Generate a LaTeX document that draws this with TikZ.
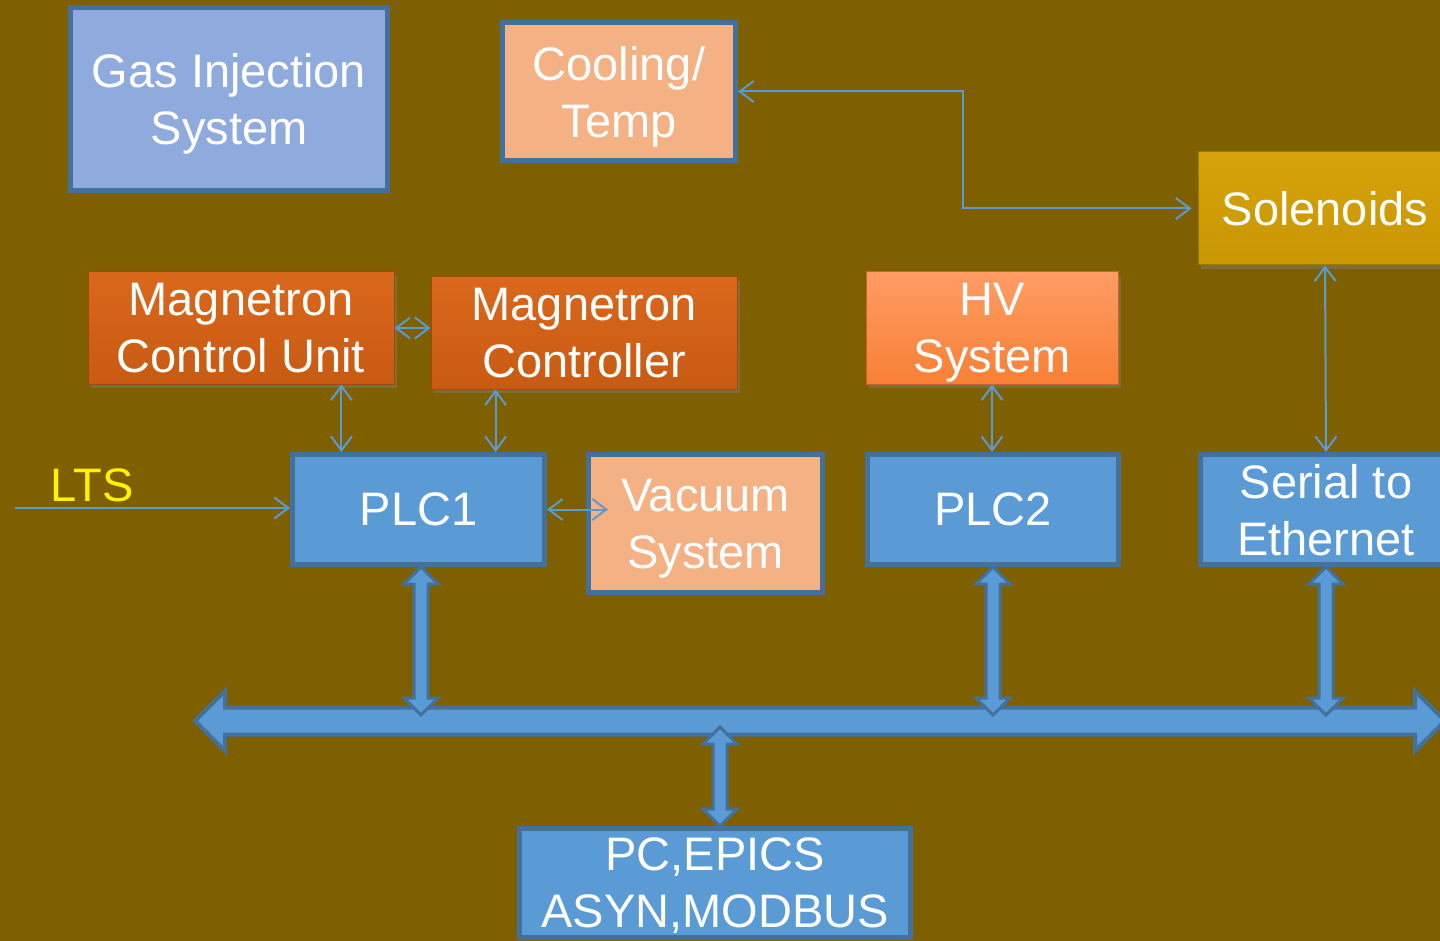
\documentclass[tikz,border=0pt]{standalone}
\usepackage{fontspec}
\setmainfont{Liberation Sans}
\usetikzlibrary{arrows.meta,shapes.arrows,shadows,calc}
\definecolor{bgbrown}{RGB}{127,96,0}
\definecolor{edgeblue}{RGB}{65,113,156}
\definecolor{plcblue}{RGB}{91,155,213}
\definecolor{gasblue}{RGB}{143,170,220}
\definecolor{peach}{RGB}{244,177,131}
\definecolor{magtop}{RGB}{218,104,28}
\definecolor{magbot}{RGB}{200,90,18}
\definecolor{hvtop}{RGB}{255,156,100}
\definecolor{hvbot}{RGB}{248,128,52}
\definecolor{goldtop}{RGB}{214,163,12}
\definecolor{goldbot}{RGB}{200,150,0}

\begin{document}
\begin{tikzpicture}[x=1pt,y=-1pt,>={Straight Barb[length=14pt,width=21pt]},
  font=\fontsize{47}{57}\selectfont,
  box/.style={draw=edgeblue,line width=5pt,text=white,align=center,inner sep=0pt,text depth=0pt},
  bevel/.style={draw=#1!80!black,line width=1pt,text=white,align=center,inner sep=0pt,text depth=0pt,
    drop shadow={shadow xshift=3pt,shadow yshift=-4pt,opacity=0.45}},
  link/.style={draw=plcblue,line width=2pt},
  busarrow/.style={double arrow,draw=edgeblue,fill=plcblue,line width=4pt,inner sep=0pt,
    inner ysep=11.5pt,double arrow head extend=16.5pt,double arrow head indent=0pt},
  droparrow/.style={double arrow,draw=edgeblue,fill=plcblue,line width=3pt,inner sep=0pt,
    inner ysep=5.5pt,double arrow head extend=10pt,double arrow head indent=0pt,rotate=90}]
\useasboundingbox (0,0) rectangle (1440,941);
\fill[bgbrown] (0,0) rectangle (1440,941);

% top row
\node[box,fill=gasblue,minimum width=317,minimum height=183] (gas) at (229,99) {Gas Injection\\System};
\node[box,fill=peach,minimum width=233,minimum height=138] (cool) at (619,91.5) {Cooling/\\Temp};
\node[bevel=goldbot,top color=goldtop,bottom color=goldbot,minimum width=254,minimum height=113] (sol) at (1325,208.5) {Solenoids};

% magnetron and HV
\node[bevel=magbot,top color=magtop,bottom color=magbot,minimum width=306,minimum height=112] (mcu) at (241,328) {Magnetron\\Control Unit};
\node[bevel=magbot,top color=magtop,bottom color=magbot,minimum width=306,minimum height=112] (mc) at (584,333) {Magnetron\\Controller};
\node[bevel=hvbot,top color=hvtop,bottom color=hvbot,minimum width=252,minimum height=112] (hv) at (992,328) {HV\\System};

% controllers
\node[box,fill=plcblue,minimum width=252,minimum height=110] (plc1) at (418.5,509.5) {PLC1};
\node[box,fill=peach,minimum width=234,minimum height=138] (vac) at (705.5,523.5) {Vacuum\\System};
\node[box,fill=plcblue,minimum width=251,minimum height=110] (plc2) at (993,509.5) {PLC2};
\node[box,fill=plcblue,minimum width=251,minimum height=110] (ser) at (1326,509.5) {Serial to\\Ethernet};
\node[box,fill=plcblue,minimum width=391,minimum height=109] (pc) at (715,883) {PC,EPICS\\ASYN,MODBUS};
\node[text=yellow] (lts) at (92,485) {LTS};

% bus
\node[busarrow,minimum height=1250] (bus) at (820,721) {};
\node[droparrow,minimum height=148] (up1) at (421,641) {};
\node[droparrow,minimum height=148] (up2) at (993,641) {};
\node[droparrow,minimum height=148] (up3) at (1326,641) {};
\node[droparrow,minimum height=99] (pcup) at (720,776.5) {};

% signal lines
\coordinate (ltsin) at (15,508);
\coordinate (bend) at (963,92);
\coordinate (p1a) at ($(plc1.north west)!0.2!(plc1.north east)$);
\coordinate (p1b) at ($(plc1.north west)!0.8!(plc1.north east)$);
\draw[link,->] (ltsin) -- (ltsin -| plc1.west);
\draw[link,<->] (mcu.east) -- (mcu.east -| mc.west);
\draw[link,<->] (p1a |- mcu.south) -- (p1a);
\draw[link,<->] (p1b |- mc.south) -- (p1b);
\draw[link,<->,shorten >=-22pt] (plc1.east) -- (plc1.east -| vac.west);
\draw[link,<->] (hv.south) -- (hv.south |- plc2.north);
\draw[link,<->] (sol.south) -- (ser.north);
\draw[link,<->,shorten >=6pt] (cool.east) -- (bend |- cool.east) -- (bend |- sol.west) -- (sol.west);
\end{tikzpicture}
\end{document}
